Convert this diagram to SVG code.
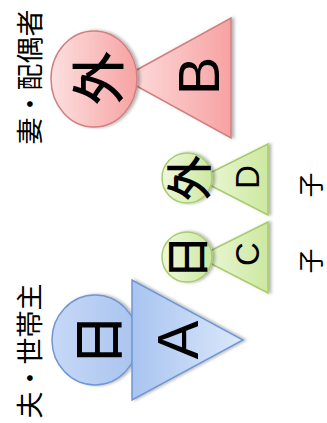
<svg xmlns="http://www.w3.org/2000/svg" width="327" height="423" viewBox="0 0 327 423">
<defs>
<linearGradient id="gr" x1="0" y1="0" x2="1" y2="0"><stop offset="0" stop-color="#fde0e0"/><stop offset="1" stop-color="#f7a2a2"/></linearGradient>
<linearGradient id="gg" x1="0" y1="0" x2="1" y2="0"><stop offset="0" stop-color="#eef8dc"/><stop offset="1" stop-color="#cde8a0"/></linearGradient>
<linearGradient id="gb" x1="0" y1="0" x2="1" y2="0"><stop offset="0" stop-color="#a8c4f0"/><stop offset="1" stop-color="#dce8fb"/></linearGradient>
<linearGradient id="gbc" x1="0" y1="0" x2="1" y2="0"><stop offset="0" stop-color="#c6d8f6"/><stop offset="1" stop-color="#a9c4ef"/></linearGradient>
<filter id="sh" x="-20%" y="-20%" width="140%" height="140%"><feDropShadow dx="2.5" dy="0" stdDeviation="1.5" flood-color="#000" flood-opacity="0.3"/></filter>
</defs>
<style>
.r{fill:url(#gr);stroke:#d27f7f;stroke-width:1.5;filter:url(#sh)}
.g{fill:url(#gg);stroke:#a6cc6c;stroke-width:1.5;filter:url(#sh)}
.bt{fill:url(#gb);stroke:#6f97d2;stroke-width:1.5;filter:url(#sh)}
.bc{fill:url(#gbc);stroke:#6f97d2;stroke-width:1.5;filter:url(#sh)}
.k{font-family:"Noto Sans CJK JP","Noto Sans CJK SC",sans-serif;fill:#000;text-anchor:middle;dominant-baseline:central}
.l{font-family:"Liberation Sans",Arial,sans-serif;fill:#000;text-anchor:middle;dominant-baseline:central}
</style>
<g id="connectors"/>
<g id="wife">
<polygon class="r" points="122,78 231,18 231,138"/>
<ellipse class="r" cx="94" cy="79" rx="43" ry="48"/>
<text class="k" font-size="54" font-weight="500" transform="translate(95,78) rotate(-90)">外</text>
<text class="l" font-size="58" transform="translate(198,76) rotate(-90)">B</text>
</g>
<g id="childD">
<polygon class="g" points="198,179 268,144 268,215"/>
<circle class="g" cx="187" cy="178" r="25"/>
<text class="k" font-size="46" font-weight="500" transform="translate(186,178) rotate(-90)">外</text>
<text class="l" font-size="33" transform="translate(247,177) rotate(-90)">D</text>
</g>
<g id="childC">
<polygon class="g" points="198,257 268,222 268,293"/>
<circle class="g" cx="187" cy="257" r="25"/>
<text class="k" font-size="44" font-weight="500" transform="translate(185,257) rotate(-90)">日</text>
<text class="l" font-size="33" transform="translate(247,254) rotate(-90)">C</text>
</g>
<g id="husband">
<ellipse class="bc" cx="95" cy="340" rx="43" ry="45"/>
<polygon class="bt" points="132,280 132,400 243,340"/>
<text class="k" font-size="52" font-weight="500" transform="translate(95,340) rotate(-90)">日</text>
<text class="l" font-size="58" transform="translate(177,340) rotate(-90)">A</text>
</g>
<g id="labels">
<text class="k" font-size="27" transform="translate(28,77) rotate(-90)">妻・配偶者</text>
<text class="k" font-size="27" transform="translate(28,351) rotate(-90)">夫・世帯主</text>
<text class="k" font-size="25" transform="translate(309,185) rotate(-90)">子</text>
<text class="k" font-size="25" transform="translate(309,261) rotate(-90)">子</text>
</g>
</svg>
